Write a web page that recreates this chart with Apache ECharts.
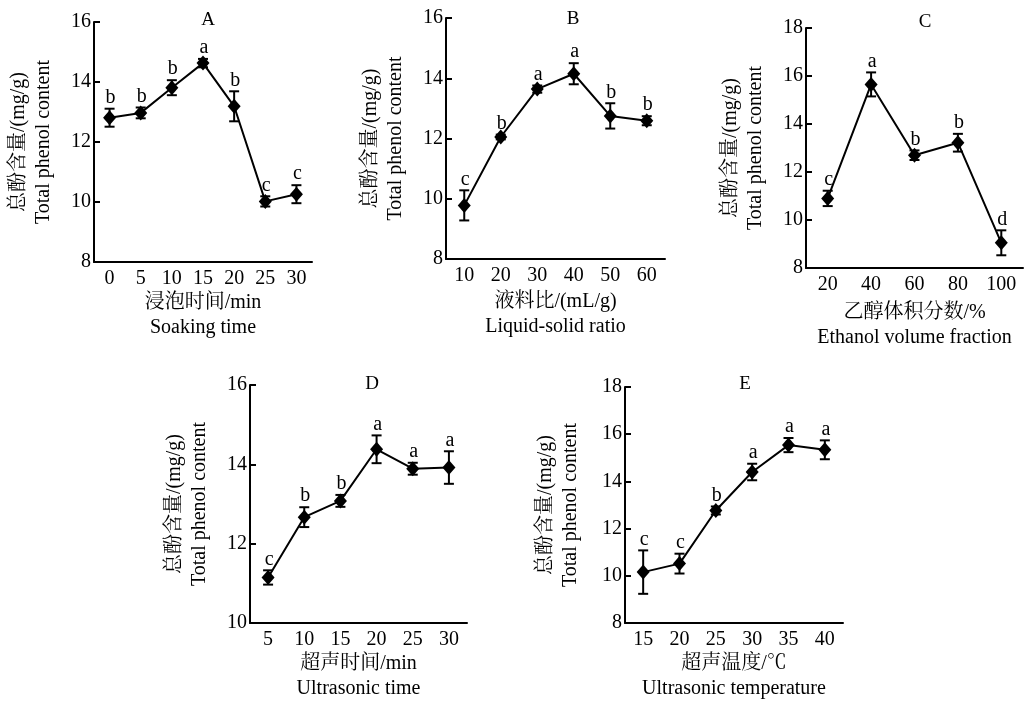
<!DOCTYPE html>
<html>
<head>
<meta charset="utf-8">
<script src="https://cdn.jsdelivr.net/npm/echarts@6/dist/echarts.min.js"></script>
<style>
  html, body { margin: 0; padding: 0; background: #fff; }
  #main { width: 1028px; height: 702px; }
</style>
</head>
<body>
<div id="main"></div>
<script>
// A 浸泡时间
var catsA = ['0', '5', '10', '15', '20', '25', '30'];
var valsA = [12.81, 12.97, 13.81, 14.63, 13.19, 10.02, 10.26];
var errA = [0.3, 0.18, 0.25, 0.14, 0.5, 0.17, 0.3];
var letA = ['b', 'b', 'b', 'a', 'b', 'c', 'c'];

// B 液料比
var catsB = ['10', '20', '30', '40', '50', '60'];
var valsB = [9.78, 12.05, 13.64, 14.15, 12.75, 12.59];
var errB = [0.5, 0.08, 0.12, 0.35, 0.42, 0.15];
var letB = ['c', 'b', 'a', 'a', 'b', 'b'];

// C 乙醇体积分数
var catsC = ['20', '40', '60', '80', '100'];
var valsC = [10.9, 15.65, 12.7, 13.22, 9.05];
var errC = [0.32, 0.5, 0.2, 0.37, 0.52];
var letC = ['c', 'a', 'b', 'b', 'd'];

// D 超声时间
var catsD = ['5', '10', '15', '20', '25', '30'];
var valsD = [11.15, 12.67, 13.08, 14.38, 13.89, 13.92];
var errD = [0.18, 0.25, 0.15, 0.35, 0.15, 0.41];
var letD = ['c', 'b', 'b', 'a', 'a', 'a'];

// E 超声温度
var catsE = ['15', '20', '25', '30', '35', '40'];
var valsE = [10.16, 10.52, 12.77, 14.4, 15.54, 15.34];
var errE = [0.92, 0.42, 0.17, 0.35, 0.3, 0.4];
var letE = ['c', 'c', 'b', 'a', 'a', 'a'];

var yMin = [8, 8, 8, 10, 8];
var yMax = [16, 16, 18, 16, 18];

var FONT = "'Liberation Serif','Noto Serif CJK SC','Noto Sans CJK SC',serif";
var FS = 20;

var panels = [
    {title: 'A', cats: catsA, vals: valsA, err: errA, let: letA,
        xname: '浸泡时间/min\nSoaking time',
        grid: {left: 94, top: 22, width: 218, height: 240}, tx: 208, ty: 21, ygap: 38, xgap: 27},
    {title: 'B', cats: catsB, vals: valsB, err: errB, let: letB,
        xname: '液料比/(mL/g)\nLiquid-solid ratio',
        grid: {left: 446, top: 18, width: 219, height: 241}, tx: 573, ty: 20, ygap: 38, xgap: 30},
    {title: 'C', cats: catsC, vals: valsC, err: errC, let: letC,
        xname: '乙醇体积分数/%\nEthanol volume fraction',
        grid: {left: 806, top: 28, width: 217, height: 240}, tx: 925, ty: 23, ygap: 38, xgap: 32},
    {title: 'D', cats: catsD, vals: valsD, err: errD, let: letD,
        xname: '超声时间/min\nUltrasonic time',
        grid: {left: 250, top: 385, width: 217, height: 240}, tx: 372, ty: 385, ygap: 38, xgap: 26},
    {title: 'E', cats: catsE, vals: valsE, err: errE, let: letE,
        xname: '超声温度/℃\nUltrasonic temperature',
        grid: {left: 625, top: 387, width: 218, height: 241}, tx: 745, ty: 385, ygap: 42, xgap: 24}
];

var myChart = echarts.init(document.getElementById('main'));

var option = {
    backgroundColor: '#fff',
    animation: false,
    textStyle: {fontFamily: FONT, color: '#000'},
    title: [],
    grid: [],
    xAxis: [],
    yAxis: [],
    series: []
};

panels.forEach(function (p, i) {
    option.title.push({
        text: p.title,
        left: p.tx,
        top: p.ty - 10,
        textAlign: 'center',
        padding: 0,
        textStyle: {fontFamily: FONT, fontSize: 19, fontWeight: 'normal', color: '#000'}
    });
    option.grid.push(p.grid);
    option.xAxis.push({
        type: 'category',
        gridIndex: i,
        data: p.cats,
        boundaryGap: true,
        name: p.xname,
        nameLocation: 'middle',
        nameGap: p.xgap,
        nameTextStyle: {fontFamily: FONT, fontSize: FS, lineHeight: 25, color: '#000'},
        axisLine: {lineStyle: {color: '#000', width: 2}},
        axisTick: {inside: true, alignWithLabel: true, length: 6, lineStyle: {color: '#000', width: 2}},
        axisLabel: {fontFamily: FONT, fontSize: FS, color: '#000', margin: 7},
        splitLine: {show: false}
    });
    option.yAxis.push({
        type: 'value',
        gridIndex: i,
        min: yMin[i],
        max: yMax[i],
        interval: 2,
        name: '总酚含量/(mg/g)\nTotal phenol content',
        nameLocation: 'middle',
        nameRotate: 90,
        nameGap: p.ygap,
        nameTextStyle: {fontFamily: FONT, fontSize: FS, lineHeight: 25, color: '#000'},
        axisLine: {show: true, lineStyle: {color: '#000', width: 2}},
        axisTick: {show: true, inside: true, length: 6, lineStyle: {color: '#000', width: 2}},
        axisLabel: {fontFamily: FONT, fontSize: FS, color: '#000', margin: 3},
        splitLine: {show: false}
    });

    // 误差线 + 显著性字母
    var ebData = p.vals.map(function (v, k) {
        return [k, v, p.err[k]];
    });
    option.series.push({
        type: 'custom',
        xAxisIndex: i,
        yAxisIndex: i,
        data: ebData,
        z: 3,
        renderItem: function (params, api) {
            var x = api.value(0);
            var v = api.value(1);
            var e = api.value(2);
            var top = api.coord([x, v + e]);
            var bot = api.coord([x, v - e]);
            var hw = 5;
            var st = {stroke: '#000', lineWidth: 2};
            return {
                type: 'group',
                children: [
                    {type: 'line', shape: {x1: top[0], y1: top[1], x2: bot[0], y2: bot[1]}, style: st},
                    {type: 'line', shape: {x1: top[0] - hw, y1: top[1], x2: top[0] + hw, y2: top[1]}, style: st},
                    {type: 'line', shape: {x1: bot[0] - hw, y1: bot[1], x2: bot[0] + hw, y2: bot[1]}, style: st},
                    {
                        type: 'text',
                        x: top[0] + 1,
                        y: top[1] - 1,
                        style: {
                            text: p.let[params.dataIndex],
                            fill: '#000',
                            font: '20px ' + FONT,
                            textAlign: 'center',
                            textVerticalAlign: 'bottom'
                        }
                    }
                ]
            };
        }
    });

    option.series.push({
        type: 'line',
        xAxisIndex: i,
        yAxisIndex: i,
        data: p.vals,
        symbol: 'diamond',
        symbolSize: [13, 15],
        z: 4,
        lineStyle: {color: '#000', width: 2},
        itemStyle: {color: '#000'}
    });
});

myChart.setOption(option);
</script>
</body>
</html>
